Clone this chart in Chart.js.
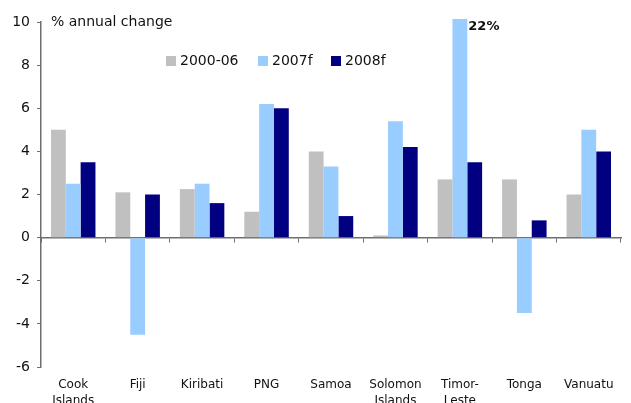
<!DOCTYPE html>
<html>
<head>
<meta charset="utf-8">
<script src="https://cdn.jsdelivr.net/npm/chart.js@4"></script>
<style>
  html, body { margin: 0; padding: 0; background: #fff; }
  #wrap { width: 631px; height: 403px; position: relative; }
</style>
</head>
<body>
<div id="wrap"><canvas id="chart"></canvas></div>
<script>
// Pacific economies - % annual change
const countries = [['Cook', 'Islands'], 'Fiji', 'Kiribati', 'PNG', 'Samoa', ['Solomon', 'Islands'], ['Timor-', 'Leste'], 'Tonga', 'Vanuatu'];
const seriesNames = ['2000-06', '2007f', '2008f'];
const avg2000_06 = [5.0, 2.1, 2.25, 1.2, 4.0, 0.1, 2.7, 2.7, 2.0];
const fc2007 = [2.5, -4.5, 2.5, 6.2, 3.3, 5.4, 22, -3.5, 5.0];
const fc2008 = [3.5, 2.0, 1.6, 6.0, 1.0, 4.2, 3.5, 0.8, 4.0];
const yTicks = [-6, -4, -2, 0, 2, 4, 6, 8, 10];

const COLORS = ['#C0C0C0', '#99CCFF', '#000080'];
const AXIS = '#6f6f6f';
const FONT = '"DejaVu Sans", Verdana, sans-serif';

// legend + titles drawn by hand, the Excel layout is a bit odd
const legendX = [166, 258, 331];
const extras = {
    id: 'extras',
    afterDraw(chart) {
        const ctx = chart.ctx;
        const area = chart.chartArea;
        ctx.save();
        ctx.fillStyle = '#111';
        ctx.font = '14px ' + FONT;
        ctx.textBaseline = 'middle';
        ctx.textAlign = 'left';
        ctx.fillText('% annual change', 51, 22);

        chart.data.datasets.forEach((ds, i) => {
            ctx.fillStyle = ds.backgroundColor;
            ctx.fillRect(legendX[i], 56, 10, 10);
            ctx.fillStyle = '#111';
            ctx.fillText(ds.label, legendX[i] + 14, 61);
        });

        // value label for the clipped Timor-Leste bar
        const bar = chart.getDatasetMeta(1).data[6];
        ctx.font = 'bold 13px ' + FONT;
        ctx.fillText(fc2007[6] + '%', bar.x + bar.width / 2 + 1, area.top + 5);
        ctx.restore();
    }
};

new Chart(document.getElementById('chart'), {
    type: 'bar',
    data: {
        labels: countries,
        datasets: [
            { label: seriesNames[0], data: avg2000_06, backgroundColor: COLORS[0] },
            { label: seriesNames[1], data: fc2007, backgroundColor: COLORS[1], clip: { left: 0, top: 3, right: 0, bottom: 0 } },
            { label: seriesNames[2], data: fc2008, backgroundColor: COLORS[2] }
        ]
    },
    options: {
        responsive: true,
        maintainAspectRatio: false,
        animation: false,
        layout: { padding: { top: 22, right: 10, left: 0, bottom: 0 } },
        datasets: { bar: { categoryPercentage: 0.69, barPercentage: 1.0 } },
        plugins: {
            legend: { display: false },
            tooltip: { enabled: false }
        },
        scales: {
            x: {
                position: 'bottom',
                grid: { display: false, drawTicks: false },
                border: { display: false },
                ticks: {
                    color: '#111',
                    font: { family: FONT, size: 12, lineHeight: 1.35 },
                    padding: 10,
                    maxRotation: 0,
                    autoSkip: false
                },
                afterFit(scale) { scale.height = 36; }
            },
            x2: {
                type: 'category',
                labels: countries,
                position: { y: 0 },
                offset: true,
                ticks: { display: false },
                grid: { offset: true, drawOnChartArea: false, tickLength: 4, color: AXIS, lineWidth: 1 },
                border: { display: true, color: AXIS, width: 1.5 }
            },
            y: {
                min: yTicks[0],
                max: yTicks[yTicks.length - 1],
                afterBuildTicks(scale) { scale.ticks = yTicks.map(v => ({ value: v })); },
                ticks: {
                    color: '#111',
                    font: { family: FONT, size: 14 },
                    padding: 7
                },
                grid: { drawOnChartArea: false, tickLength: 4, color: AXIS },
                border: { display: true, color: AXIS, width: 1.5 },
                afterFit(scale) { scale.width = 41; }
            }
        }
    },
    plugins: [extras]
});
</script>
</body>
</html>
